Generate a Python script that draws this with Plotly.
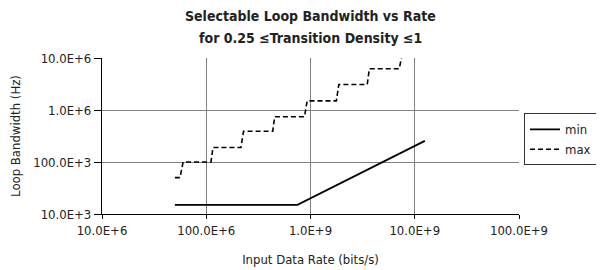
import plotly.graph_objects as go

# Data
min_rate = [50e6, 750e6, 12.5e9]
min_bw = [15e3, 15e3, 255e3]

max_rate = [50e6, 56e6, 60e6, 111e6, 116e6, 215e6, 228e6, 434e6, 453e6,
            875e6, 929e6, 1.77e9, 1.87e9, 3.5e9, 3.67e9, 7.1e9, 7.45e9]
max_bw = [50e3, 50e3, 100e3, 100e3, 190e3, 190e3, 390e3, 390e3, 740e3,
          740e3, 1.5e6, 1.5e6, 3.1e6, 3.1e6, 6.2e6, 6.2e6, 10e6]

x_ticks = [10e6, 100e6, 1e9, 10e9, 100e9]
x_ticktext = ["10.0E+6", "100.0E+6", "1.0E+9", "10.0E+9", "100.0E+9"]
y_ticks = [10e3, 100e3, 1e6, 10e6]
y_ticktext = ["10.0E+3", "100.0E+3", "1.0E+6", "10.0E+6"]

title_lines = ["Selectable Loop Bandwidth vs Rate",
               "for 0.25 \u2264Transition Density \u22641"]

FONT = "DejaVu Sans Condensed, Liberation Sans Narrow, Arial Narrow, sans-serif"

fig = go.Figure()
fig.add_trace(go.Scatter(x=min_rate, y=min_bw, mode="lines", name="min",
                         line=dict(color="black", width=1.8)))
fig.add_trace(go.Scatter(x=max_rate, y=max_bw, mode="lines", name="max",
                         line=dict(color="black", width=1.6, dash="5px,3px")))

for i, t in enumerate(title_lines):
    fig.add_annotation(text="<b>" + t + "</b>", xref="paper", yref="paper",
                       x=0.5, y=1 + (58 - [16, 38][i]) / 156.0,
                       xanchor="center", yanchor="middle", showarrow=False,
                       font=dict(family=FONT, size=14, color="#222"))

fig.update_layout(
    width=604, height=270,
    margin=dict(l=94, r=93, t=50, b=64, autoexpand=False),
    paper_bgcolor="white", plot_bgcolor="white",
    font=dict(family=FONT, size=13, color="#222"),
    showlegend=True,
    legend=dict(x=1.012, y=0.645, xanchor="left", yanchor="top",
                bordercolor="#333", borderwidth=1, bgcolor="white",
                font=dict(family=FONT, size=13, color="#222"),
                itemwidth=30, tracegroupgap=0),
)
fig.update_xaxes(type="log", range=[7, 11], tickvals=x_ticks, ticktext=x_ticktext,
                 showgrid=True, gridcolor="#808080", gridwidth=1,
                 showline=True, linecolor="black", linewidth=1.2, mirror=False,
                 ticks="outside", ticklen=4, tickcolor="black",
                 title=dict(text="Input Data Rate (bits/s)", standoff=18,
                            font=dict(family=FONT, size=13)),
                 tickfont=dict(family=FONT, size=13), zeroline=False,
                 automargin=False)
fig.update_yaxes(type="log", range=[4, 7], tickvals=y_ticks, ticktext=y_ticktext,
                 showgrid=True, gridcolor="#808080", gridwidth=1,
                 showline=True, linecolor="black", linewidth=1.2,
                 ticks="outside", ticklen=7, tickcolor="black",
                 title=dict(text="Loop Bandwidth (Hz)", standoff=16,
                            font=dict(family=FONT, size=13)),
                 tickfont=dict(family=FONT, size=13), zeroline=False,
                 automargin=False)

fig.write_html("out.html")
